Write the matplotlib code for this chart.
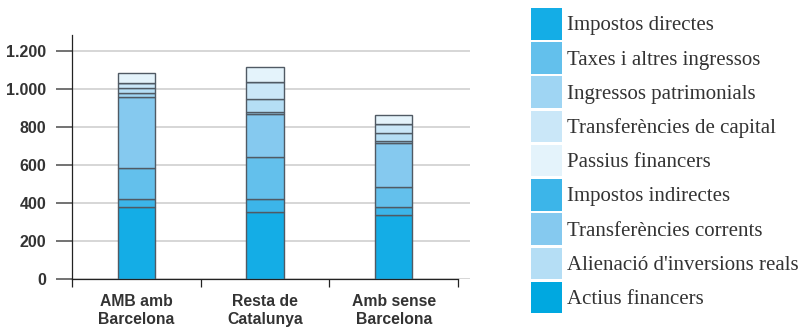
import matplotlib
matplotlib.use("Agg")
import matplotlib.pyplot as plt
import numpy as np
from matplotlib.patches import Patch

categories = ["AMB amb\nBarcelona", "Resta de\nCatalunya", "Amb sense\nBarcelona"]

# stacked from the bottom up
series = ["Impostos directes", "Impostos indirectes", "Taxes i altres ingressos",
          "Transferències corrents", "Ingressos patrimonials",
          "Alienació d'inversions reals", "Transferències de capital",
          "Actius financers", "Passius financers"]
directes = [378, 353, 334]
indirectes = [42, 66, 43]
taxes = [166, 225, 109]
corrents = [375, 224, 229]
patrimonials = [18, 14, 13]
alienacio = [26, 68, 40]
capital = [27, 87, 47]
actius = [4, 3, 3]
passius = [48, 76, 44]
values = [directes, indirectes, taxes, corrents, patrimonials,
          alienacio, capital, actius, passius]
colors = ["#14ade6", "#3cb5e9", "#63c0ec", "#85c9ef", "#9fd5f3",
          "#b5def5", "#cae7f8", "#00a8e0", "#e4f3fb"]

legend_order = ["Impostos directes", "Taxes i altres ingressos", "Ingressos patrimonials",
                "Transferències de capital", "Passius financers", "Impostos indirectes",
                "Transferències corrents", "Alienació d'inversions reals", "Actius financers"]

yticks = [0, 200, 400, 600, 800, 1000, 1200]
ytick_labels = ["0", "200", "400", "600", "800", "1.000", "1.200"]

fig = plt.figure(figsize=(8.03, 3.28), dpi=100)
ax = fig.add_axes([72 / 803, 49.4 / 328, 398 / 803, 243.6 / 328])

x = np.arange(len(categories))
bottom = np.zeros(len(categories))
for name, vals, c in zip(series, values, colors):
    ax.bar(x, vals, width=0.29, bottom=bottom, color=c, edgecolor="#505a64",
           linewidth=1.0, zorder=3, label=name)
    bottom += np.array(vals)

ax.set_xlim(-0.5, 2.593)
ax.set_ylim(0, 1287)

for s in ["top", "right"]:
    ax.spines[s].set_visible(False)
ax.spines["bottom"].set_bounds(-0.5, 2.5)
ax.spines["left"].set_color("#222222")
ax.spines["bottom"].set_color("#222222")
ax.spines["left"].set_linewidth(0.9)
ax.spines["bottom"].set_linewidth(0.9)

ax.set_yticks(yticks)
ax.set_yticklabels(ytick_labels, fontsize=11.5, fontweight="bold", color="#333333",
                   family="Liberation Sans")
ax.tick_params(axis="y", length=11.5, width=1.2, color="#5a5a5a", pad=7)
ax.yaxis.grid(True, color="#cccccc", linewidth=1.1, zorder=0)

ax.set_xticks(x)
ax.set_xticklabels(categories, fontsize=11.3, fontweight="bold", color="#333333",
                   family="Liberation Sans", linespacing=1.3)
ax.tick_params(axis="x", which="major", length=0, pad=11)
ax.set_xticks([-0.5, 0.5, 1.5, 2.5], minor=True)
ax.tick_params(axis="x", which="minor", length=6, width=0.9, color="#222222")

lookup = dict(zip(series, colors))
handles = [Patch(facecolor=lookup[n], edgecolor="none") for n in legend_order]
fig.legend(handles, legend_order, loc="upper left", bbox_to_anchor=(531 / 803, 1 - 8 / 328),
           frameon=False, prop={"family": "Liberation Serif", "size": 15},
           handlelength=1.5, handleheight=1.95, labelspacing=0.13, handletextpad=0.25,
           borderaxespad=0, borderpad=0, labelcolor="#333333")

fig.savefig("out.png", dpi=100)
